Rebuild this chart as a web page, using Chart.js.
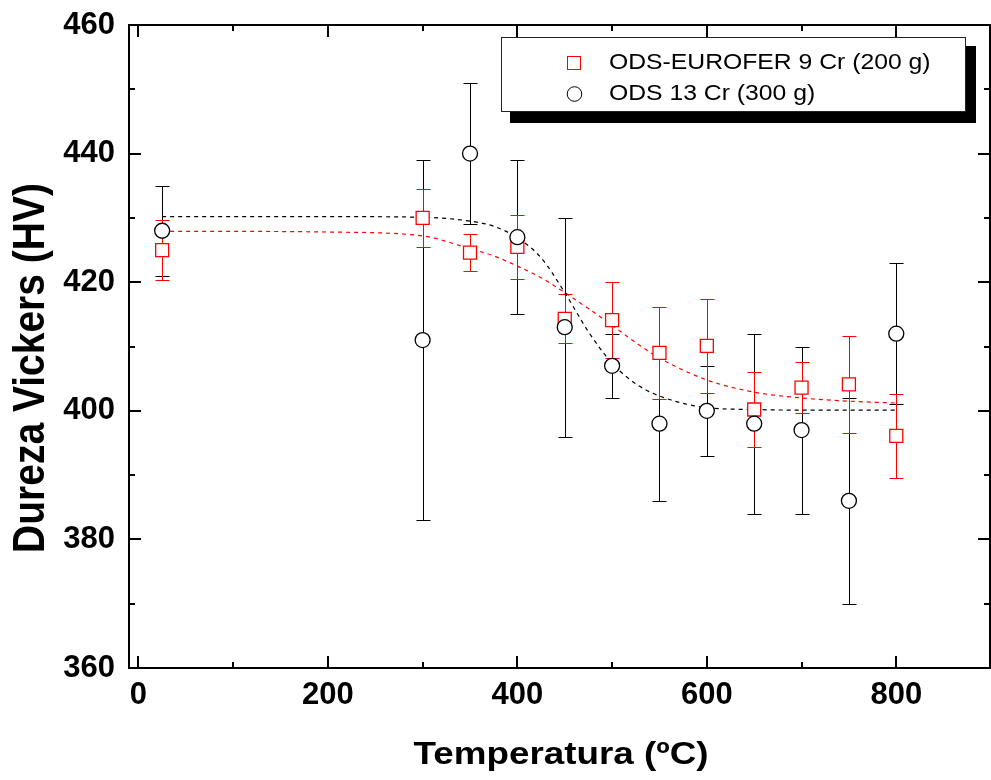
<!DOCTYPE html>
<html>
<head>
<meta charset="utf-8">
<script src="https://cdn.jsdelivr.net/npm/chart.js@4.4.0/dist/chart.umd.min.js"></script>
<style>
  html, body { margin: 0; padding: 0; background: #fff; }
  #wrap { width: 991px; height: 780px; }
</style>
</head>
<body>
<div id="wrap"><canvas id="chart" width="991" height="780"></canvas></div>
<script>
// measured points (temperature in ºC, Vickers hardness in HV)
const temps = [25, 300, 350, 400, 450, 500, 550, 600, 650, 700, 750, 800];
const eurofer = [425, 430, 424.6, 425.5, 414.3, 414.1, 409, 410.1, 400.2, 403.6, 404.1, 396.1];
const euroferErr = [4.7, 4.5, 2.9, 5, 3.8, 5.9, 7.1, 7.3, 5.8, 4, 7.6, 6.5];
const ods13 = [428, 411, 440, 427, 413, 407, 398, 400, 398, 397, 386, 412];
const ods13Err = [7, 28, 11, 12, 17, 5, 12, 7, 14, 13, 16, 11];

// dashed fit curves
const fitTemps = [25, 100, 200, 300, 350, 375, 400, 425, 450, 475, 500, 525, 550, 600, 650, 700, 750, 800];
const euroferFit = [427.9, 427.9, 427.8, 427.2, 425.2, 424.1, 422.5, 420.7, 418.4, 415.9, 413.3, 410.6, 408.2, 404.8, 402.9, 402.0, 401.5, 401.2];
const ods13Fit = [430.2, 430.2, 430.2, 430.1, 429.5, 428.7, 426.9, 423.8, 418.4, 412.3, 407.4, 404.2, 402.3, 400.5, 400.2, 400.1, 400.1, 400.1];

const xTickValues = [0, 200, 400, 600, 800];
const xMinorValues = [100, 300, 500, 700];
const yTickValues = [360, 380, 400, 420, 440, 460];
const yMinorValues = [370, 390, 410, 430, 450];

const labelEurofer = 'ODS-EUROFER 9 Cr (200 g)';
const labelOds13 = 'ODS 13 Cr (300 g)';
const xTitle = 'Temperatura (ºC)';
const yTitle = 'Dureza Vickers (HV)';

const RED = '#ff0000';
const FONT = '"Liberation Sans", Arial, Helvetica, sans-serif';
const SX = 1.15; // the original text looks a bit wide

function pts(xs, ys) {
  return xs.map((x, i) => ({x: x, y: ys[i]}));
}

function stretchedText(ctx, text, x, y, rot) {
  ctx.save();
  ctx.translate(x, y);
  ctx.scale(SX, 1);
  if (rot) ctx.rotate(rot);
  ctx.fillText(text, 0, 0);
  ctx.restore();
}

function drawErrorBars(ctx, xs, ys, errs, color, sx, sy) {
  ctx.save();
  ctx.strokeStyle = color;
  ctx.lineWidth = 1;
  xs.forEach((t, i) => {
    const x = Math.round(sx.getPixelForValue(t)) + 0.5;
    const yt = Math.round(sy.getPixelForValue(ys[i] + errs[i])) + 0.5;
    const yb = Math.round(sy.getPixelForValue(ys[i] - errs[i])) + 0.5;
    ctx.beginPath();
    ctx.moveTo(x, yt); ctx.lineTo(x, yb);
    ctx.moveTo(x - 7, yt); ctx.lineTo(x + 7, yt);
    ctx.moveTo(x - 7, yb); ctx.lineTo(x + 7, yb);
    ctx.stroke();
  });
  ctx.restore();
}

const decor = {
  id: 'decor',
  beforeDatasetsDraw(chart) {
    const ctx = chart.ctx, sx = chart.scales.x, sy = chart.scales.y;
    drawErrorBars(ctx, temps, ods13, ods13Err, '#000', sx, sy);
    drawErrorBars(ctx, temps, eurofer, euroferErr, RED, sx, sy);
  },
  afterDraw(chart) {
    const ctx = chart.ctx, sx = chart.scales.x, sy = chart.scales.y;
    const a = chart.chartArea;
    const L = a.left, R = a.right - 1, T = a.top, B = a.bottom;
    ctx.save();
    ctx.strokeStyle = '#000';
    ctx.lineWidth = 2;
    ctx.strokeRect(L, T, R - L, B - T);

    // inward ticks on all four sides
    ctx.beginPath();
    const tickX = (v, len) => {
      const x = Math.round(sx.getPixelForValue(v));
      ctx.moveTo(x, B); ctx.lineTo(x, B - len);
      ctx.moveTo(x, T); ctx.lineTo(x, T + len);
    };
    const tickY = (v, len) => {
      const y = Math.round(sy.getPixelForValue(v));
      ctx.moveTo(L, y); ctx.lineTo(L + len, y);
      ctx.moveTo(R, y); ctx.lineTo(R - len, y);
    };
    xTickValues.forEach(v => tickX(v, 12));
    xMinorValues.forEach(v => tickX(v, 6));
    yTickValues.forEach(v => tickY(v, 12));
    yMinorValues.forEach(v => tickY(v, 6));
    ctx.stroke();

    // axis titles
    ctx.fillStyle = '#000';
    ctx.textBaseline = 'alphabetic';
    ctx.textAlign = 'center';
    ctx.font = 'bold 32px ' + FONT;
    stretchedText(ctx, xTitle, 561, 764, 0);
    ctx.font = 'bold 39px ' + FONT;
    stretchedText(ctx, yTitle, 44, 368, -Math.PI / 2);

    // legend with drop shadow
    ctx.fillStyle = '#000';
    ctx.fillRect(510, 46, 466, 77);
    ctx.fillStyle = '#fff';
    ctx.fillRect(501, 37, 465, 75);
    ctx.lineWidth = 1;
    ctx.strokeStyle = '#222';
    ctx.strokeRect(501.5, 37.5, 464, 74);

    ctx.strokeStyle = RED;
    ctx.strokeRect(567.5, 56.5, 13, 13);
    ctx.strokeStyle = '#000';
    ctx.beginPath();
    ctx.arc(574.5, 94, 7.3, 0, Math.PI * 2);
    ctx.stroke();

    ctx.fillStyle = '#000';
    ctx.textAlign = 'left';
    ctx.textBaseline = 'middle';
    ctx.font = '21.5px ' + FONT;
    stretchedText(ctx, labelEurofer, 609, 63, 0);
    stretchedText(ctx, labelOds13, 609, 94, 0);
    ctx.restore();
  }
};

const tickFont = {family: FONT, size: 31, weight: 'bold'};

const cfg = {
  type: 'scatter',
  data: {
    datasets: [
      {
        label: labelOds13,
        data: pts(temps, ods13),
        pointStyle: 'circle',
        pointRadius: 7.5,
        borderColor: '#000',
        backgroundColor: '#fff',
        borderWidth: 1.3,
        showLine: false,
        order: 0
      },
      {
        label: labelEurofer,
        data: pts(temps, eurofer),
        pointStyle: 'rect',
        pointRadius: 9.2,
        borderColor: RED,
        backgroundColor: '#fff',
        borderWidth: 1.3,
        showLine: false,
        order: 1
      },
      {
        label: 'fit 13 Cr',
        data: pts(fitTemps, ods13Fit),
        showLine: true,
        pointRadius: 0,
        borderColor: '#000',
        borderWidth: 1.2,
        borderDash: [4, 4],
        cubicInterpolationMode: 'monotone',
        order: 2
      },
      {
        label: 'fit EUROFER',
        data: pts(fitTemps, euroferFit),
        showLine: true,
        pointRadius: 0,
        borderColor: RED,
        borderWidth: 1.2,
        borderDash: [4, 4],
        cubicInterpolationMode: 'monotone',
        order: 3
      }
    ]
  },
  options: {
    responsive: false,
    animation: false,
    layout: {autoPadding: false, padding: {left: 0, right: 0, top: 25, bottom: 0}},
    plugins: {legend: {display: false}, tooltip: {enabled: false}},
    scales: {
      x: {
        type: 'linear',
        min: -10,
        max: 900,
        afterBuildTicks: s => { s.ticks = xTickValues.map(v => ({value: v})); },
        afterFit: s => {
          s.height = 112;
          s.paddingLeft = 0; s.paddingRight = 0;
        },
        grid: {display: false, drawTicks: false},
        border: {display: false},
        ticks: {font: tickFont, color: '#000', padding: 9, maxRotation: 0}
      },
      y: {
        type: 'linear',
        min: 360,
        max: 460,
        afterBuildTicks: s => { s.ticks = yTickValues.map(v => ({value: v})); },
        afterFit: s => {
          s.width = 129;
          s.paddingTop = 0; s.paddingBottom = 0;
        },
        grid: {display: false, drawTicks: false},
        border: {display: false},
        ticks: {font: tickFont, color: '#000', padding: 14}
      }
    }
  },
  plugins: [decor]
};

new Chart(document.getElementById('chart').getContext('2d'), cfg);
</script>
</body>
</html>
